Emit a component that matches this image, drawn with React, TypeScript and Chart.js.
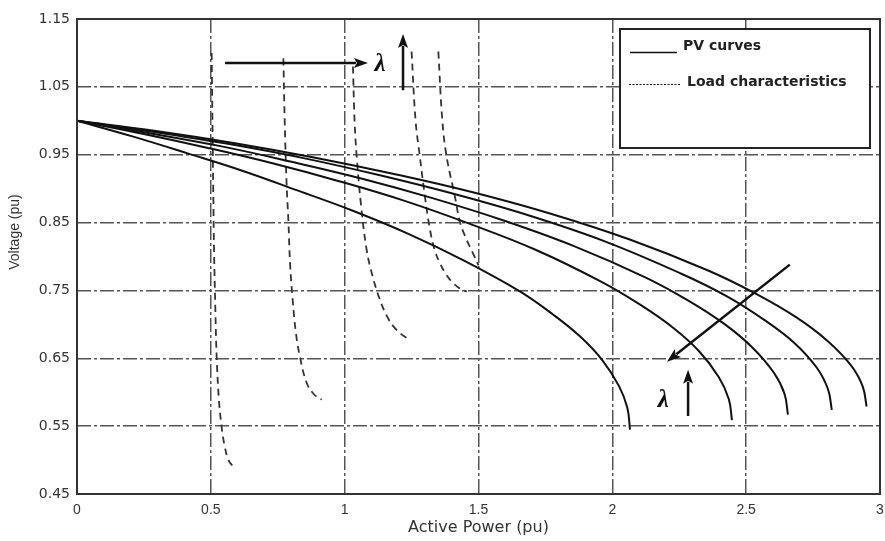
import { useEffect, useRef } from 'react';
import { Chart, registerables } from 'chart.js';

Chart.register(...registerables);

// ---------- axis ticks & texts ----------
const xTickValues = [0, 0.5, 1, 1.5, 2, 2.5, 3];
const xTickLabels = ['0', '0.5', '1', '1.5', '2', '2.5', '3'];
const yTickValues = [0.45, 0.55, 0.65, 0.75, 0.85, 0.95, 1.05, 1.15];
const yTickLabels = ['0.45', '0.55', '0.65', '0.75', '0.85', '0.95', '1.05', '1.15'];
const xAxisTitle = 'Active Power (pu)';
const yAxisTitle = 'Voltage (pu)';
const legendLabels = ['PV curves', 'Load characteristics'];
const lambdaLabel = 'λ';

// ---------- PV curves (P in pu, V in pu) ----------
const pv1P = [0, 0.207, 0.413, 0.62, 0.826, 1.033, 1.24, 1.446, 1.653, 1.777, 1.88, 1.963, 2.025, 2.056, 2.066];
const pv1V = [1.0, 0.977, 0.952, 0.926, 0.897, 0.867, 0.833, 0.794, 0.749, 0.715, 0.682, 0.647, 0.609, 0.577, 0.545];
const pv2P = [0, 0.245, 0.489, 0.734, 0.979, 1.224, 1.468, 1.713, 1.958, 2.104, 2.227, 2.325, 2.398, 2.435, 2.447];
const pv2V = [1.0, 0.981, 0.96, 0.937, 0.911, 0.882, 0.848, 0.81, 0.763, 0.729, 0.695, 0.66, 0.622, 0.59, 0.559];
const pv3P = [0, 0.266, 0.531, 0.797, 1.062, 1.328, 1.594, 1.859, 2.125, 2.284, 2.417, 2.523, 2.603, 2.643, 2.656];
const pv3V = [1.0, 0.982, 0.963, 0.94, 0.915, 0.886, 0.853, 0.815, 0.769, 0.735, 0.701, 0.666, 0.629, 0.598, 0.567];
const pv4P = [0, 0.282, 0.564, 0.846, 1.128, 1.41, 1.692, 1.974, 2.256, 2.425, 2.566, 2.679, 2.764, 2.806, 2.82];
const pv4V = [1.0, 0.984, 0.966, 0.945, 0.92, 0.892, 0.86, 0.822, 0.775, 0.742, 0.707, 0.673, 0.636, 0.604, 0.574];
const pv5P = [0, 0.295, 0.59, 0.885, 1.18, 1.475, 1.77, 2.065, 2.36, 2.537, 2.685, 2.803, 2.891, 2.935, 2.95];
const pv5V = [1.0, 0.985, 0.967, 0.946, 0.922, 0.895, 0.863, 0.825, 0.779, 0.745, 0.711, 0.676, 0.64, 0.609, 0.579];

// ---------- Load characteristics ----------
const ld1P = [0.503, 0.506, 0.509, 0.512, 0.517, 0.522, 0.53, 0.54, 0.552, 0.566, 0.584];
const ld1V = [1.1, 1.0, 0.9, 0.81, 0.72, 0.65, 0.59, 0.55, 0.52, 0.5, 0.49];
const ld2P = [0.771, 0.776, 0.783, 0.79, 0.796, 0.805, 0.817, 0.833, 0.858, 0.885, 0.914];
const ld2V = [1.092, 1.0, 0.908, 0.85, 0.79, 0.74, 0.69, 0.652, 0.614, 0.597, 0.589];
const ld3P = [1.031, 1.037, 1.045, 1.06, 1.082, 1.105, 1.132, 1.158, 1.182, 1.21, 1.232];
const ld3V = [1.08, 1.0, 0.947, 0.88, 0.81, 0.77, 0.736, 0.712, 0.697, 0.686, 0.68];
const ld4P = [1.25, 1.265, 1.281, 1.3, 1.319, 1.336, 1.356, 1.38, 1.405, 1.43, 1.456];
const ld4V = [1.102, 1.0, 0.947, 0.888, 0.839, 0.81, 0.79, 0.773, 0.761, 0.753, 0.748];
const ld5P = [1.35, 1.365, 1.381, 1.412, 1.431, 1.45, 1.468, 1.485, 1.5];
const ld5V = [1.102, 1.0, 0.947, 0.888, 0.85, 0.83, 0.814, 0.8, 0.787];

// ---------- annotation arrows & λ labels (data units) ----------
const arrowStartP = [0.553, 1.218, 2.663, 2.283];
const arrowStartV = [1.085, 1.045, 0.788, 0.565];
const arrowEndP = [1.087, 1.218, 2.204, 2.283];
const arrowEndV = [1.085, 1.128, 0.645, 0.633];
const lambdaP = [1.132, 2.19];
const lambdaV = [1.083, 0.588];

const pvSeries = [
  [pv1P, pv1V], [pv2P, pv2V], [pv3P, pv3V], [pv4P, pv4V], [pv5P, pv5V],
];
const loadSeries = [
  [ld1P, ld1V], [ld2P, ld2V], [ld3P, ld3V], [ld4P, ld4V], [ld5P, ld5V],
];

const toPoints = (p: number[], v: number[]) => p.map((x, i) => ({ x, y: v[i] }));

function drawArrow(ctx: CanvasRenderingContext2D, x1: number, y1: number, x2: number, y2: number, head: number, w: number) {
  const ang = Math.atan2(y2 - y1, x2 - x1);
  const bx = x2 - head * Math.cos(ang);
  const by = y2 - head * Math.sin(ang);
  ctx.beginPath();
  ctx.moveTo(x1, y1);
  ctx.lineTo(bx + 2 * Math.cos(ang), by + 2 * Math.sin(ang));
  ctx.stroke();
  ctx.beginPath();
  ctx.moveTo(x2, y2);
  ctx.lineTo(bx + (w / 2) * Math.sin(ang), by - (w / 2) * Math.cos(ang));
  ctx.lineTo(bx + 3 * Math.cos(ang), by + 3 * Math.sin(ang));
  ctx.lineTo(bx - (w / 2) * Math.sin(ang), by + (w / 2) * Math.cos(ang));
  ctx.closePath();
  ctx.fill();
}

const overlayPlugin = {
  id: 'overlay',
  afterDraw(chart: any) {
    const { ctx, chartArea: a, scales } = chart;
    const xs = scales.x;
    const ys = scales.y;
    ctx.save();
    ctx.setLineDash([]);
    // frame
    ctx.strokeStyle = '#333';
    ctx.lineWidth = 2;
    ctx.strokeRect(a.left, a.top, a.right - a.left, a.bottom - a.top);

    // arrows
    ctx.strokeStyle = '#111';
    ctx.fillStyle = '#111';
    ctx.lineWidth = 2.5;
    for (let i = 0; i < arrowStartP.length; i++) {
      drawArrow(
        ctx,
        xs.getPixelForValue(arrowStartP[i]), ys.getPixelForValue(arrowStartV[i]),
        xs.getPixelForValue(arrowEndP[i]), ys.getPixelForValue(arrowEndV[i]),
        14, 10,
      );
    }
    // lambda labels
    ctx.font = 'italic bold 25px "Liberation Serif", "DejaVu Serif", serif';
    ctx.textAlign = 'center';
    ctx.textBaseline = 'middle';
    for (let i = 0; i < lambdaP.length; i++) {
      ctx.fillText(lambdaLabel, xs.getPixelForValue(lambdaP[i]), ys.getPixelForValue(lambdaV[i]));
    }

    // legend box
    const lx = 620, ly = 29, lw = 250, lh = 119;
    ctx.fillStyle = '#fff';
    ctx.fillRect(lx, ly, lw, lh);
    ctx.strokeStyle = '#222';
    ctx.lineWidth = 2;
    ctx.strokeRect(lx, ly, lw, lh);
    ctx.strokeStyle = '#111';
    ctx.lineWidth = 1.5;
    ctx.beginPath();
    ctx.moveTo(630, 52.5);
    ctx.lineTo(677, 52.5);
    ctx.stroke();
    ctx.lineWidth = 1.2;
    ctx.setLineDash([2, 1.5]);
    ctx.beginPath();
    ctx.moveTo(629, 84.5);
    ctx.lineTo(681, 84.5);
    ctx.stroke();
    ctx.setLineDash([]);
    ctx.fillStyle = '#222';
    ctx.font = 'bold 14px "DejaVu Sans", sans-serif';
    ctx.textAlign = 'left';
    ctx.textBaseline = 'middle';
    ctx.fillText(legendLabels[0], 683, 46);
    ctx.fillText(legendLabels[1], 687, 82);

    // y axis title
    ctx.save();
    ctx.translate(15, 232);
    ctx.rotate(-Math.PI / 2);
    ctx.font = '14px "Liberation Sans", Arial, sans-serif';
    ctx.fillStyle = '#333';
    ctx.textAlign = 'center';
    ctx.textBaseline = 'middle';
    ctx.fillText(yAxisTitle, 0, 0);
    ctx.restore();

    ctx.restore();
  },
};

export default function App() {
  const ref = useRef<HTMLCanvasElement>(null);
  useEffect(() => {
    const datasets: any[] = [];
    pvSeries.forEach(([p, v], i) => {
      datasets.push({
        label: `${legendLabels[0]} ${i + 1}`,
        data: toPoints(p, v),
        borderColor: '#111',
        borderWidth: 2,
        pointRadius: 0,
        fill: false,
        tension: 0.4,
      });
    });
    loadSeries.forEach(([p, v], i) => {
      datasets.push({
        label: `${legendLabels[1]} ${i + 1}`,
        data: toPoints(p, v),
        borderColor: '#333',
        borderWidth: 1.8,
        borderDash: [7, 5],
        pointRadius: 0,
        fill: false,
        tension: 0.4,
      });
    });

    const chart = new Chart(ref.current as HTMLCanvasElement, {
      type: 'line',
      data: { datasets },
      options: {
        animation: false,
        responsive: false,
        devicePixelRatio: 1,
        parsing: false,
        layout: { padding: { left: 0, top: 19, right: 5, bottom: 0 } },
        plugins: { legend: { display: false }, tooltip: { enabled: false } },
        scales: {
          x: {
            type: 'linear',
            min: 0,
            max: 3,
            afterBuildTicks: (s: any) => { s.ticks = xTickValues.map((v) => ({ value: v })); },
            afterFit: (s: any) => { s.height = 47; s.paddingLeft = 0; s.paddingRight = 0; },
            ticks: {
              callback: (_v: any, i: number) => xTickLabels[i],
              font: { family: '"Liberation Sans Narrow", "Liberation Sans", Arial, sans-serif', size: 14 },
              color: '#333',
              padding: 8,
              maxRotation: 0,
            },
            grid: { color: '#555', lineWidth: 1.5, drawTicks: false },
            border: { display: false, dash: [14, 3, 3, 3] },
            title: {
              display: true,
              text: xAxisTitle,
              font: { family: '"DejaVu Sans", sans-serif', size: 16 },
              color: '#333',
              padding: { top: 0, bottom: 4 },
            },
          },
          y: {
            type: 'linear',
            min: 0.45,
            max: 1.15,
            afterBuildTicks: (s: any) => { s.ticks = yTickValues.map((v) => ({ value: v })); },
            afterFit: (s: any) => { s.width = 77; s.paddingTop = 0; s.paddingBottom = 0; },
            ticks: {
              callback: (_v: any, i: number) => yTickLabels[i],
              font: { family: '"DejaVu Sans", sans-serif', size: 14 },
              color: '#333',
              padding: 7,
            },
            grid: { color: '#555', lineWidth: 1.5, drawTicks: false },
            border: { display: false, dash: [14, 3, 3, 3] },
          },
        },
      },
      plugins: [overlayPlugin],
    } as any);
    return () => chart.destroy();
  }, []);

  return (
    <div style={{ position: 'fixed', left: 0, top: 0, width: 885, height: 541, background: '#fff' }}>
      <canvas ref={ref} width={885} height={541} style={{ display: 'block', width: 885, height: 541 }} />
    </div>
  );
}
